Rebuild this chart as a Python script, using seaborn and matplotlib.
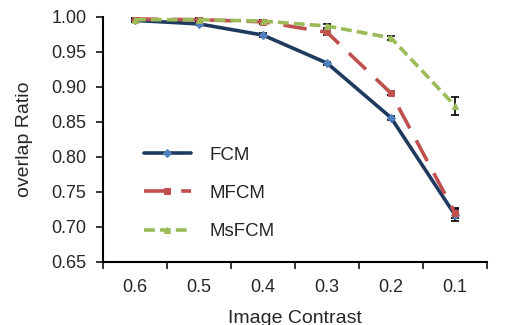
import numpy as np
import pandas as pd
import matplotlib
matplotlib.use("Agg")
import matplotlib.pyplot as plt
import seaborn as sns

contrast = ["0.6", "0.5", "0.4", "0.3", "0.2", "0.1"]
fcm = [0.995, 0.990, 0.974, 0.934, 0.856, 0.717]
mfcm = [0.997, 0.996, 0.993, 0.978, 0.891, 0.720]
msfcm = [0.996, 0.996, 0.994, 0.987, 0.970, 0.873]
fcm_err = [0.002, 0.002, 0.003, 0.002, 0.003, 0.008]
mfcm_err = [0.002, 0.002, 0.003, 0.004, 0.003, 0.007]
msfcm_err = [0.002, 0.002, 0.002, 0.003, 0.003, 0.013]

sns.set_style("ticks")
plt.rcParams['font.family'] = ['Liberation Sans', 'DejaVu Sans']

pos = np.arange(len(contrast))
df = pd.DataFrame({
    "pos": np.tile(pos, 3),
    "val": fcm + mfcm + msfcm,
    "method": ["FCM"] * 6 + ["MFCM"] * 6 + ["MsFCM"] * 6,
})

fig = plt.figure(figsize=(5.1, 3.25), dpi=100)
ax = fig.add_axes([0.202, 0.194, 0.753, 0.754])

styles = {
    "FCM": dict(color="#1F3A5F", ls="-", marker="D", mfc="#4F81BD", ms=4),
    "MFCM": dict(color="#C0504D", ls=(0, (6.5, 3.8)), marker="s", mfc="#C0504D", ms=5),
    "MsFCM": dict(color="#9BBB59", ls=(0, (3.0, 1.4)), marker="^", mfc="#9BBB59", ms=5),
}
errs = {"FCM": fcm_err, "MFCM": mfcm_err, "MsFCM": msfcm_err}

for name in ["FCM", "MFCM", "MsFCM"]:
    st = styles[name]
    sub = df[df.method == name]
    ax.errorbar(sub["pos"], sub["val"], yerr=errs[name], fmt="none",
                ecolor="black", elinewidth=1.2, capsize=3, capthick=1.2, zorder=2)
    sns.lineplot(data=sub, x="pos", y="val", ax=ax, color=st["color"],
                 linestyle=st["ls"], linewidth=2.6, marker=st["marker"],
                 markersize=st["ms"], markerfacecolor=st["mfc"],
                 markeredgecolor=st["mfc"], label=name, zorder=3)

ax.set_xlim(-0.5, 5.5)
ax.set_ylim(0.65, 1.00)
yt = np.arange(0.65, 1.001, 0.05)
ax.set_yticks(yt)
ax.set_yticklabels([f"{v:.2f}" for v in yt])
ax.set_xticks(np.arange(-0.5, 5.6, 1.0))
ax.set_xticklabels([])
ax.set_xticks(pos, minor=True)
ax.set_xticklabels(contrast, minor=True)
ax.tick_params(axis="x", which="minor", length=0, pad=12, labelsize=13)
ax.tick_params(axis="x", which="major", length=5, width=1.3, direction="out")
ax.tick_params(axis="y", length=5, width=1.3, direction="out", labelsize=13, pad=7)
for s in ["top", "right"]:
    ax.spines[s].set_visible(False)
for s in ["left", "bottom"]:
    ax.spines[s].set_linewidth(1.5)
    ax.spines[s].set_color("black")

ax.set_xlabel("Image Contrast", fontsize=14, labelpad=10)
ax.set_ylabel("overlap Ratio", fontsize=14, labelpad=13)

leg = ax.legend(loc="lower left", bbox_to_anchor=(0.062, 0.02), frameon=False,
                fontsize=13.5, handlelength=2.5, labelspacing=1.12, handletextpad=1.0)

fig.savefig("out.png", dpi=100)
